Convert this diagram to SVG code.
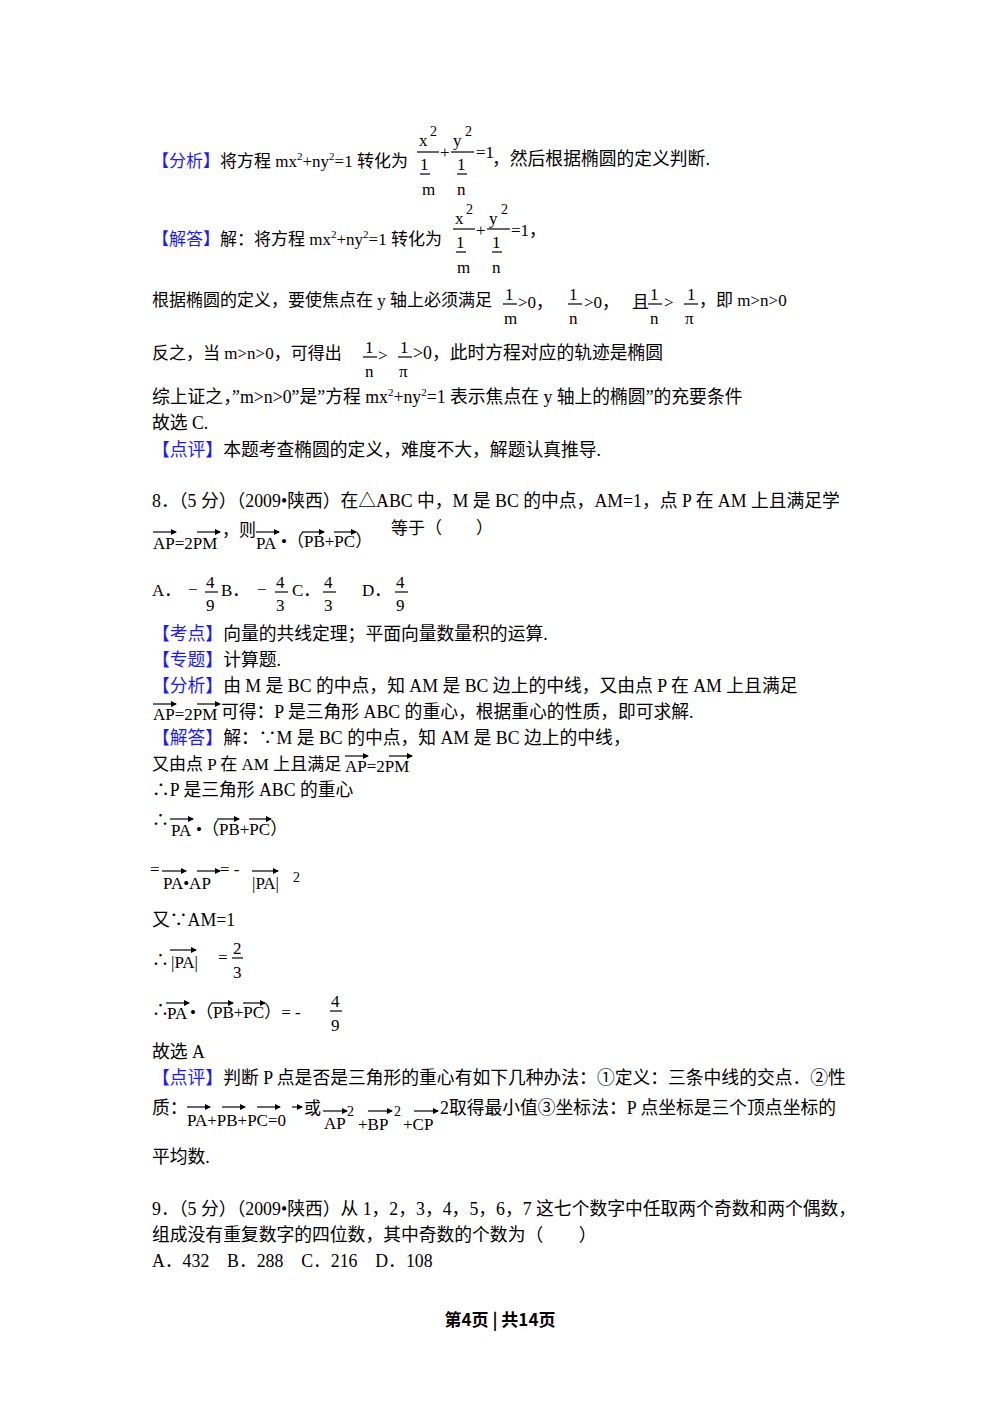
<svg xmlns="http://www.w3.org/2000/svg" width="1000" height="1414" viewBox="0 0 1000 1414">
<style>
text{font-family:"Liberation Serif","Noto Sans CJK SC",serif;font-size:17px;fill:#000}
.L{font-size:17.8px}
.b{fill:#1a1aff}
.s{font-size:11px}
.f{stroke:#000;stroke-width:1.2}
.v{stroke:#000;stroke-width:1.2;marker-end:url(#ar)}
.h{font-family:"Noto Sans CJK SC",sans-serif;font-weight:bold;font-size:17px}
</style>
<defs><marker id="ar" markerWidth="6" markerHeight="6" refX="5" refY="3" orient="auto" markerUnits="userSpaceOnUse"><path d="M0,0L6,3L0,6z" fill="#000"/></marker></defs>
<rect width="1000" height="1414" fill="#fff"/>

<text x="152" y="167"><tspan class="b">【分析】</tspan>将方程 mx<tspan class="s" dy="-7">2</tspan><tspan dy="7">+ny</tspan><tspan class="s" dy="-7">2</tspan><tspan dy="7">=1 转化为</tspan></text>
<text x="419" y="146">x</text><text x="430" y="136" style="font-size:14px">2</text>
<line class="f" x1="417" y1="152" x2="439" y2="152"/>
<text x="420" y="170">1</text><line class="f" x1="420" y1="174" x2="430" y2="174"/><text x="422" y="195">m</text>
<text x="440" y="158">+</text>
<text x="453" y="146">y</text><text x="465" y="136" style="font-size:14px">2</text>
<line class="f" x1="451" y1="152" x2="474" y2="152"/>
<text x="457" y="170">1</text><line class="f" x1="457" y1="174" x2="467" y2="174"/><text x="457" y="195">n</text>
<text x="476" y="158">=1</text><text x="492" y="165" class="L">，然后根据椭圆的定义判断.</text>

<text x="152" y="245"><tspan class="b">【解答】</tspan>解：将方程 mx<tspan class="s" dy="-7">2</tspan><tspan dy="7">+ny</tspan><tspan class="s" dy="-7">2</tspan><tspan dy="7">=1 转化为</tspan></text>
<text x="455" y="224">x</text><text x="466" y="214" style="font-size:14px">2</text>
<line class="f" x1="453" y1="229" x2="475" y2="229"/>
<text x="456" y="248">1</text><line class="f" x1="456" y1="252" x2="466" y2="252"/><text x="457" y="273">m</text>
<text x="476" y="236">+</text>
<text x="489" y="224">y</text><text x="501" y="214" style="font-size:14px">2</text>
<line class="f" x1="487" y1="229" x2="510" y2="229"/>
<text x="492" y="248">1</text><line class="f" x1="492" y1="252" x2="502" y2="252"/><text x="492" y="273">n</text>
<text x="511" y="236">=1，</text>

<text x="152" y="306">根据椭圆的定义，要使焦点在 y 轴上必须满足</text>
<text x="505" y="300">1</text><line class="f" x1="503" y1="304" x2="517" y2="304"/><text x="504" y="324">m</text>
<text x="518" y="308">&gt;0，</text>
<text x="569" y="300">1</text><line class="f" x1="568" y1="304" x2="582" y2="304"/><text x="569" y="324">n</text>
<text x="584" y="308">&gt;0，</text><text x="632" y="308">且</text>
<text x="650" y="300">1</text><line class="f" x1="648" y1="304" x2="662" y2="304"/><text x="650" y="324">n</text>
<text x="664" y="308">&gt;</text>
<text x="687" y="300">1</text><line class="f" x1="684" y1="304" x2="698" y2="304"/><text x="685" y="324">π</text>
<text x="699" y="306">，即 m&gt;n&gt;0</text>

<text x="152" y="359">反之，当 m&gt;n&gt;0，可得出</text>
<text x="365" y="353">1</text><line class="f" x1="363" y1="357" x2="377" y2="357"/><text x="365" y="377">n</text>
<text x="378" y="361">&gt;</text>
<text x="400" y="353">1</text><line class="f" x1="398" y1="357" x2="412" y2="357"/><text x="399" y="377">π</text>
<text x="413" y="359" class="L">&gt;0，此时方程对应的轨迹是椭圆</text>

<text x="152" y="403" class="L">综上证之，”m&gt;n&gt;0”是”方程 mx<tspan class="s" dy="-7">2</tspan><tspan dy="7">+ny</tspan><tspan class="s" dy="-7">2</tspan><tspan dy="7">=1 表示焦点在 y 轴上的椭圆”的充要条件</tspan></text>
<text x="152" y="429" class="L">故选 C.</text>
<text x="152" y="456" class="L"><tspan class="b">【点评】</tspan>本题考查椭圆的定义，难度不大，解题认真推导.</text>

<text x="152" y="507" class="L">8．（5 分）（2009•陕西）在△ABC 中，M 是 BC 的中点，AM=1，点 P 在 AM 上且满足学</text>
<text x="153" y="549">AP=2PM</text>
<line class="v" x1="153" y1="532" x2="176" y2="532"/><line class="v" x1="197" y1="532" x2="220" y2="532"/>
<text x="222" y="536">，则</text>
<text x="256" y="549">PA</text><line class="v" x1="256" y1="532" x2="279" y2="532"/>
<text x="281" y="547">•（PB+PC）</text>
<line class="v" x1="302" y1="532" x2="324" y2="532"/><line class="v" x1="334" y1="532" x2="356" y2="532"/>
<text x="391" y="534">等于（　　）</text>

<text x="152" y="596">A．</text>
<text x="188" y="595">−</text>
<text x="206" y="588">4</text><line class="f" x1="205" y1="592" x2="218" y2="592"/><text x="206" y="611">9</text>
<text x="221" y="596">B．</text>
<text x="257" y="595">−</text>
<text x="276" y="588">4</text><line class="f" x1="275" y1="592" x2="288" y2="592"/><text x="276" y="611">3</text>
<text x="292" y="596">C．</text>
<text x="324" y="588">4</text><line class="f" x1="323" y1="592" x2="336" y2="592"/><text x="324" y="611">3</text>
<text x="362" y="596">D．</text>
<text x="396" y="588">4</text><line class="f" x1="395" y1="592" x2="408" y2="592"/><text x="396" y="611">9</text>

<text x="152" y="640" class="L"><tspan class="b">【考点】</tspan>向量的共线定理；平面向量数量积的运算.</text>
<text x="152" y="666" class="L"><tspan class="b">【专题】</tspan>计算题.</text>
<text x="152" y="692" class="L"><tspan class="b">【分析】</tspan>由 M 是 BC 的中点，知 AM 是 BC 边上的中线，又由点 P 在 AM 上且满足</text>
<text x="153" y="720">AP=2PM</text>
<line class="v" x1="153" y1="704" x2="176" y2="704"/><line class="v" x1="197" y1="704" x2="220" y2="704"/>
<text x="221" y="718" class="L">可得：P 是三角形 ABC 的重心，根据重心的性质，即可求解.</text>
<text x="152" y="744" class="L"><tspan class="b">【解答】</tspan>解：∵M 是 BC 的中点，知 AM 是 BC 边上的中线，</text>
<text x="152" y="770">又由点 P 在 AM 上且满足</text>
<text x="345" y="772">AP=2PM</text>
<line class="v" x1="345" y1="756" x2="368" y2="756"/><line class="v" x1="389" y1="756" x2="412" y2="756"/>
<text x="152" y="796" class="L">∴P 是三角形 ABC 的重心</text>

<text x="152" y="826">∴</text>
<text x="171" y="836">PA</text><line class="v" x1="170" y1="819" x2="193" y2="819"/>
<text x="196" y="835">•（PB+PC）</text>
<line class="v" x1="217" y1="819" x2="239" y2="819"/><line class="v" x1="249" y1="819" x2="271" y2="819"/>

<text x="150" y="875">=</text>
<text x="163" y="889">PA•AP</text><line class="v" x1="162" y1="871" x2="186" y2="871"/><line class="v" x1="197" y1="871" x2="220" y2="871"/>
<text x="220" y="875">= -</text>
<text x="252" y="889">|PA|</text><line class="v" x1="252" y1="871" x2="278" y2="871"/>
<text x="293" y="882" style="font-size:14px">2</text>

<text x="152" y="926" class="L">又∵AM=1</text>
<text x="152" y="966">∴</text>
<text x="171" y="968">|PA|</text><line class="v" x1="170" y1="950" x2="196" y2="950"/>
<text x="218" y="963">=</text>
<text x="233" y="954">2</text><line class="f" x1="232" y1="958" x2="243" y2="958"/><text x="233" y="978">3</text>

<text x="152" y="1016">∴</text>
<text x="167" y="1019">PA</text><line class="v" x1="166" y1="1003" x2="189" y2="1003"/>
<text x="190" y="1018">•（PB+PC）= -</text>
<line class="v" x1="211" y1="1003" x2="233" y2="1003"/><line class="v" x1="243" y1="1003" x2="265" y2="1003"/>
<text x="331" y="1007">4</text><line class="f" x1="330" y1="1011" x2="342" y2="1011"/><text x="331" y="1031">9</text>

<text x="152" y="1058" class="L">故选 A</text>
<text x="152" y="1084" class="L"><tspan class="b">【点评】</tspan>判断 P 点是否是三角形的重心有如下几种办法：①定义：三条中线的交点．②性</text>
<text x="152" y="1114" class="L">质：</text>
<text x="187" y="1126">PA+PB+PC=0</text>
<line class="v" x1="187" y1="1107" x2="210" y2="1107"/><line class="v" x1="222" y1="1107" x2="245" y2="1107"/><line class="v" x1="257" y1="1107" x2="280" y2="1107"/><line class="v" x1="292" y1="1107" x2="302" y2="1107"/>
<text x="304" y="1114">或</text>
<text x="324" y="1129">AP</text><line class="v" x1="323" y1="1111" x2="347" y2="1111"/>
<text x="347" y="1116" style="font-size:14px">2</text>
<text x="358" y="1130">+BP</text><line class="v" x1="368" y1="1111" x2="392" y2="1111"/>
<text x="394" y="1116" style="font-size:14px">2</text>
<text x="403" y="1130">+CP</text><line class="v" x1="414" y1="1111" x2="438" y2="1111"/>
<text x="440" y="1114" class="L">2取得最小值③坐标法：P 点坐标是三个顶点坐标的</text>
<text x="152" y="1163" class="L">平均数.</text>

<text x="152" y="1215" class="L">9．（5 分）（2009•陕西）从 1，2，3，4，5，6，7 这七个数字中任取两个奇数和两个偶数，</text>
<text x="152" y="1241" class="L">组成没有重复数字的四位数，其中奇数的个数为（　　）</text>
<text x="152" y="1267" class="L">A．432　B．288　C．216　D．108</text>

<text x="500" y="1326" text-anchor="middle" class="h">第4页 | 共14页</text>
</svg>
